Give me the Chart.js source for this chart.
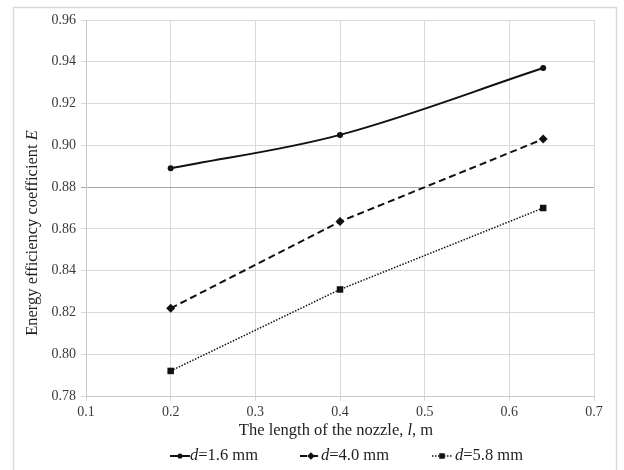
<!DOCTYPE html>
<html>
<head>
<meta charset="utf-8">
<script src="https://cdn.jsdelivr.net/npm/chart.js@4.4.0/dist/chart.umd.min.js"></script>
<style>
html,body{margin:0;padding:0;background:#fff;}
#wrap{width:624px;height:470px;position:relative;}
</style>
</head>
<body>
<div id="wrap"><canvas id="c" width="624" height="470"></canvas></div>
<script>
// ---- data ----
const nozzleLength = [0.2, 0.4, 0.64];
const effD16 = [0.889, 0.905, 0.937];
const effD40 = [0.822, 0.8635, 0.903];
const effD58 = [0.792, 0.831, 0.870];
const seriesNames = ['1.6 mm', '4.0 mm', '5.8 mm'];
const xTickValues = [0.1, 0.2, 0.3, 0.4, 0.5, 0.6, 0.7];
const yTickValues = [0.78, 0.80, 0.82, 0.84, 0.86, 0.88, 0.90, 0.92, 0.94, 0.96];

const FONT = '"Liberation Serif", "DejaVu Serif", serif';
const lineCol = '#111';

function pts(ys){ return nozzleLength.map((x,i)=>({x:x, y:ys[i]})); }

const styles = [
  {dash: [], width: 2, point: 'circle', r: 3, tension: 0.35},
  {dash: [7,4], width: 2, point: 'rectRot', r: 4.5, tension: 0},
  {dash: [1.5,1.5], width: 1.5, point: 'rect', r: 4.6, tension: 0}
];
const seriesData = [effD16, effD40, effD58];

const datasets = seriesData.map((d,i)=>({
  label: 'd=' + seriesNames[i],
  data: pts(d),
  showLine: true,
  borderColor: lineCol,
  backgroundColor: lineCol,
  borderWidth: styles[i].width,
  borderDash: styles[i].dash,
  pointStyle: styles[i].point,
  pointRadius: styles[i].r,
  pointHoverRadius: styles[i].r,
  pointBorderWidth: 0,
  tension: styles[i].tension
}));

function drawRich(ctx, parts, x, y, size, align){
  let total = 0;
  parts.forEach(p=>{ ctx.font = (p.i?'italic ':'') + size + 'px ' + FONT; p.w = ctx.measureText(p.t).width; total += p.w; });
  let cx = align==='center' ? x - total/2 : x;
  ctx.textBaseline = 'middle';
  ctx.textAlign = 'left';
  parts.forEach(p=>{ ctx.font = (p.i?'italic ':'') + size + 'px ' + FONT; ctx.fillText(p.t, cx, y); cx += p.w; });
  return total;
}

const decor = {
  id: 'decor',
  beforeDraw(chart){
    const ctx = chart.ctx;
    ctx.save();
    ctx.fillStyle = '#fff';
    ctx.fillRect(0,0,chart.width,chart.height);
    ctx.strokeStyle = '#d9d9d9';
    ctx.lineWidth = 1.5;
    ctx.strokeRect(13.5, 7.5, 603, 470);
    ctx.restore();
  },
  afterDraw(chart){
    const ctx = chart.ctx;
    ctx.save();
    ctx.fillStyle = '#1e1e1e';
    // x title
    drawRich(ctx, [{t:'The length of the nozzle, '},{t:'l',i:true},{t:', m'}], 336, 431, 16.5, 'center');
    // y title
    ctx.translate(33, 233);
    ctx.rotate(-Math.PI/2);
    drawRich(ctx, [{t:'Energy efficiency coefficient '},{t:'E',i:true}], 0, 0, 16.5, 'center');
    ctx.restore();

    // legend
    ctx.save();
    const ly = 456;
    const items = [
      {x0:170, x1:190, mx:180, tx:190},
      {x0:300, x1:321, mx:311, tx:321},
      {x0:432, x1:453, mx:442, tx:455}
    ];
    items.forEach((it,i)=>{
      const st = styles[i];
      ctx.strokeStyle = lineCol;
      ctx.fillStyle = lineCol;
      ctx.lineWidth = st.width;
      ctx.setLineDash(st.dash);
      ctx.beginPath(); ctx.moveTo(it.x0, ly); ctx.lineTo(it.x1, ly); ctx.stroke();
      ctx.setLineDash([]);
      Chart.helpers.drawPoint(ctx, {pointStyle: st.point, radius: st.r * 0.85, borderWidth: 0}, it.mx, ly);
      ctx.fillStyle = '#1e1e1e';
      drawRich(ctx, [{t:'d',i:true},{t:'=' + seriesNames[i]}], it.tx, ly, 16.5, 'left');
    });
    ctx.restore();
  }
};

new Chart(document.getElementById('c'), {
  type: 'scatter',
  data: { datasets },
  options: {
    responsive: false,
    animation: false,
    layout: { padding: { left: 0, right: 30, top: 20, bottom: 0 } },
    plugins: { legend: { display: false }, tooltip: { enabled: false } },
    scales: {
      x: {
        type: 'linear', min: 0.1, max: 0.7,
        afterBuildTicks(s){ s.ticks = xTickValues.map(v=>({value:v})); },
        afterFit(s){ s.height = 74; },
        ticks: { callback: v => v.toFixed(1), font: { family: FONT, size: 14 }, color: '#3a3a3a', padding: 3, maxRotation: 0 },
        grid: { color: '#d9d9d9', lineWidth: 1, tickLength: 5, drawTicks: true },
        border: { color: '#c8c8c8' }
      },
      y: {
        type: 'linear', min: 0.78, max: 0.96,
        afterBuildTicks(s){ s.ticks = yTickValues.map(v=>({value:v})); },
        afterFit(s){ s.width = 86; },
        ticks: { callback: v => v.toFixed(2), font: { family: FONT, size: 14 }, color: '#3a3a3a', padding: 5 },
        grid: {
          color: c => (c.tick && Math.abs(c.tick.value - 0.88) < 1e-6) ? '#a6a6a6' : '#d9d9d9',
          lineWidth: 1, tickLength: 5, drawTicks: true
        },
        border: { color: '#c8c8c8' }
      }
    }
  },
  plugins: [decor]
});
</script>
</body>
</html>
